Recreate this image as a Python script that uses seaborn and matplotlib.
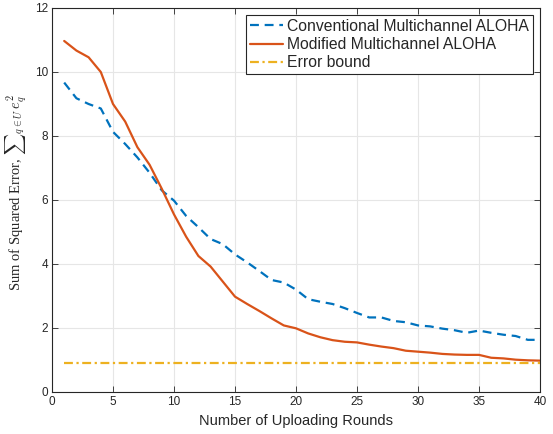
import numpy as np
import pandas as pd
import matplotlib
matplotlib.use("Agg")
import matplotlib.pyplot as plt
import seaborn as sns

rounds = list(range(1, 41))
conventional = [9.67, 9.18, 9.00, 8.86, 8.13, 7.75, 7.33, 6.85, 6.30, 5.98,
                5.50, 5.15, 4.78, 4.62, 4.30, 4.05, 3.78, 3.50, 3.42, 3.20,
                2.90, 2.82, 2.75, 2.62, 2.47, 2.33, 2.33, 2.22, 2.18, 2.08,
                2.05, 1.98, 1.93, 1.85, 1.92, 1.85, 1.79, 1.75, 1.63, 1.63]
modified = [10.97, 10.67, 10.46, 10.00, 9.00, 8.45, 7.65, 7.10, 6.35, 5.55,
            4.85, 4.25, 3.92, 3.45, 2.98, 2.75, 2.53, 2.30, 2.08, 1.99,
            1.83, 1.71, 1.62, 1.57, 1.55, 1.48, 1.42, 1.37, 1.29, 1.26,
            1.23, 1.19, 1.17, 1.16, 1.16, 1.07, 1.05, 1.01, 0.99, 0.98]
error_bound = [0.9] * 40
labels = ["Conventional Multichannel ALOHA", "Modified Multichannel ALOHA", "Error bound"]
colors = ["#0072BD", "#D95319", "#EDB120"]

sns.set_style("whitegrid")
plt.rcParams['font.family'] = ['Liberation Sans', 'DejaVu Sans']
plt.rcParams['mathtext.fontset'] = 'cm'

fig = plt.figure(figsize=(5.53, 4.34), dpi=100)
ax = fig.add_axes([52/553, 42/434, 488/553, 384/434])

sns.lineplot(x=rounds, y=conventional, ax=ax, color=colors[0], lw=1.6,
             label=labels[0], linestyle=(0, (4, 2.6)))
sns.lineplot(x=rounds, y=modified, ax=ax, color=colors[1], lw=1.6,
             label=labels[1])
sns.lineplot(x=rounds, y=error_bound, ax=ax, color=colors[2], lw=1.6,
             label=labels[2], linestyle=(0, (4, 1.6, 1, 1.6)))

ax.set_xlim(0, 40)
ax.set_ylim(0, 12)
ax.set_xticks(range(0, 41, 5))
ax.set_yticks(range(0, 13, 2))
ax.grid(True, color="#e6e6e6", lw=0.8)
for s in ax.spines.values():
    s.set_visible(True)
    s.set_color("#262626")
    s.set_linewidth(0.8)
ax.tick_params(direction="in", length=4, width=0.6, colors="#262626",
               labelsize=8.5, top=True, right=True, left=True, bottom=True,
               pad=3)
ax.set_xlabel("Number of Uploading Rounds", fontsize=10.5, color="#262626")
ax.set_ylabel(r"Sum of Squared Error, ${\sum}_{q\in U}\, e_q^2$", fontsize=10.5,
              color="#262626", family=["Liberation Serif", "DejaVu Serif"])
ax.yaxis.set_label_coords(-0.05, 0.52)

leg = ax.legend(loc="upper right", fontsize=11.3, frameon=True, fancybox=False,
                framealpha=1, edgecolor="#262626", borderaxespad=0.45,
                handlelength=2.1, handletextpad=0.25, borderpad=0.25,
                labelspacing=0.2)
leg.get_frame().set_linewidth(0.8)

fig.savefig("out.png", dpi=100)
